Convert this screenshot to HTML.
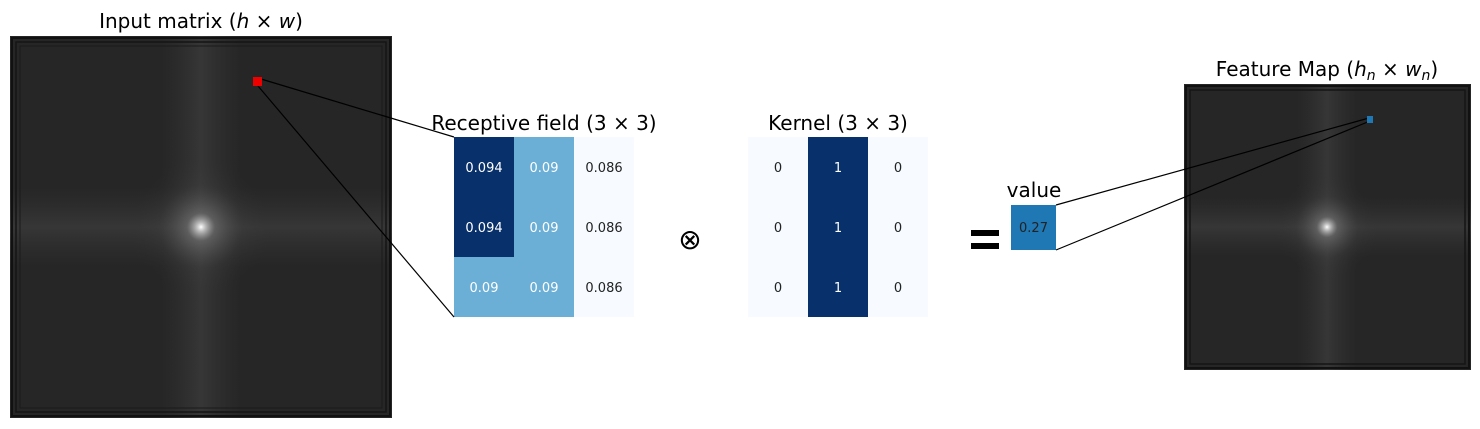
<!DOCTYPE html>
<html><head><meta charset="utf-8"><style>
body{margin:0;background:#fff;}
svg{display:block;font-family:"DejaVu Sans","Liberation Sans",sans-serif;}
</style></head><body>
<svg width="1480" height="429" viewBox="0 0 1480 429">
<defs>
<radialGradient id="glow" cx="0.5" cy="0.5" r="0.5">
<stop offset="0" stop-color="#ffffff" stop-opacity="1"/>
<stop offset="0.06" stop-color="#cccccc" stop-opacity="0.9"/>
<stop offset="0.2" stop-color="#888888" stop-opacity="0.45"/>
<stop offset="0.6" stop-color="#555555" stop-opacity="0.12"/>
<stop offset="1" stop-color="#333333" stop-opacity="0"/>
</radialGradient>
<linearGradient id="hband" x1="0" y1="0" x2="0" y2="1">
<stop offset="0" stop-color="#444" stop-opacity="0"/>
<stop offset="0.5" stop-color="#555" stop-opacity="0.35"/>
<stop offset="1" stop-color="#444" stop-opacity="0"/>
</linearGradient>
<linearGradient id="vband" x1="0" y1="0" x2="1" y2="0">
<stop offset="0" stop-color="#444" stop-opacity="0"/>
<stop offset="0.5" stop-color="#555" stop-opacity="0.35"/>
<stop offset="1" stop-color="#444" stop-opacity="0"/>
</linearGradient>
</defs>
<g>
<text x="201" y="28" font-size="20" text-anchor="middle">Input matrix (<tspan font-style="italic">h</tspan> × <tspan font-style="italic">w</tspan>)</text>
<rect x="10" y="36" width="382" height="382" fill="#262626"/>
<rect x="10" y="187" width="382" height="80" fill="url(#hband)"/>
<rect x="161" y="36" width="80" height="382" fill="url(#vband)"/>
<circle cx="201" cy="227" r="70" fill="url(#glow)"/>
<rect x="12" y="38" width="378" height="378" fill="none" stroke="#111" stroke-width="2"/>
<rect x="16" y="42" width="370" height="370" fill="none" stroke="#151515" stroke-width="1.5"/>
<rect x="20" y="46" width="362" height="362" fill="none" stroke="#1a1a1a" stroke-width="1"/>
</g>
<g>
<text x="1327" y="76" font-size="20" text-anchor="middle">Feature Map (<tspan font-style="italic">h</tspan><tspan font-style="italic" font-size="14" dy="4">n</tspan><tspan dy="-4"> × </tspan><tspan font-style="italic">w</tspan><tspan font-style="italic" font-size="14" dy="4">n</tspan><tspan dy="-4">)</tspan></text>
<rect x="1184" y="84" width="287" height="286" fill="#262626"/>
<rect x="1184" y="197" width="287" height="60" fill="url(#hband)"/>
<rect x="1297" y="84" width="60" height="286" fill="url(#vband)"/>
<circle cx="1327" cy="227" r="52" fill="url(#glow)"/>
<rect x="1186" y="86" width="283" height="282" fill="none" stroke="#111" stroke-width="2"/>
<rect x="1190" y="90" width="275" height="274" fill="none" stroke="#151515" stroke-width="1.5"/>
</g>
<g id="rf">
<text x="544" y="130" font-size="20" text-anchor="middle">Receptive field (3 × 3)</text>
</g>
<g id="kr">
<text x="838" y="130" font-size="20" text-anchor="middle">Kernel (3 × 3)</text>
</g>
<text x="690" y="249" font-size="28" text-anchor="middle">⊗</text>
<g>
<rect x="971" y="230" width="28" height="6" fill="#000"/>
<rect x="971" y="243" width="28" height="6" fill="#000"/>
</g>
<g>
<text x="1034" y="197" font-size="20" text-anchor="middle">value</text>
<rect x="1011" y="205" width="45" height="45" fill="#1f77b4"/>
<text x="1033.5" y="232" font-size="13" text-anchor="middle" fill="#222">0.27</text>
</g>
<g stroke="#000" stroke-width="1.2">
<line x1="261" y1="79" x2="454" y2="137"/>
<line x1="258" y1="86" x2="454" y2="317"/>
<line x1="1056" y1="205" x2="1369" y2="118"/>
<line x1="1056" y1="250" x2="1370" y2="121"/>
</g>
<rect x="253" y="77" width="9" height="9" fill="#ee0000"/>
<rect x="1367" y="116" width="6" height="7" fill="#1f77b4"/>
</svg>
<script>
const rfValues=[[0.094,0.09,0.086],[0.094,0.09,0.086],[0.09,0.09,0.086]];
const kernelValues=[[0,1,0],[0,1,0],[0,1,0]];
const NS="http://www.w3.org/2000/svg";
function blues(t){
  const stops=[[247,251,255],[107,174,214],[8,48,107]];
  if(t<=0.5){const u=t/0.5;return stops[0].map((c,i)=>Math.round(c+(stops[1][i]-c)*u));}
  const u=(t-0.5)/0.5;return stops[1].map((c,i)=>Math.round(c+(stops[2][i]-c)*u));
}
function grid(id,vals,x0,y0,cell,name){
  const g=document.getElementById(id);
  const flat=vals.flat();const mn=Math.min(...flat),mx=Math.max(...flat);
  vals.forEach((row,r)=>row.forEach((v,c)=>{
    const t=mx>mn?(v-mn)/(mx-mn):0;
    const col=blues(t);
    const rect=document.createElementNS(NS,'rect');
    
    
    rect.setAttribute('x',x0+c*cell);rect.setAttribute('y',y0+r*cell);
    rect.setAttribute('width',cell);rect.setAttribute('height',cell);
    rect.setAttribute('fill','rgb('+col.join(',')+')');
    g.appendChild(rect);
    const tx=document.createElementNS(NS,'text');
    
    
    tx.setAttribute('x',x0+c*cell+cell/2);tx.setAttribute('y',y0+r*cell+cell/2+5);
    tx.setAttribute('font-size','13');tx.setAttribute('text-anchor','middle');
    tx.setAttribute('fill',t>0.3?'#fff':'#222');
    tx.textContent=String(v);
    g.appendChild(tx);
  }));
}
grid('rf',rfValues,454,137,60,'receptive-field');
grid('kr',kernelValues,748,137,60,'kernel');
</script>
</body></html>
